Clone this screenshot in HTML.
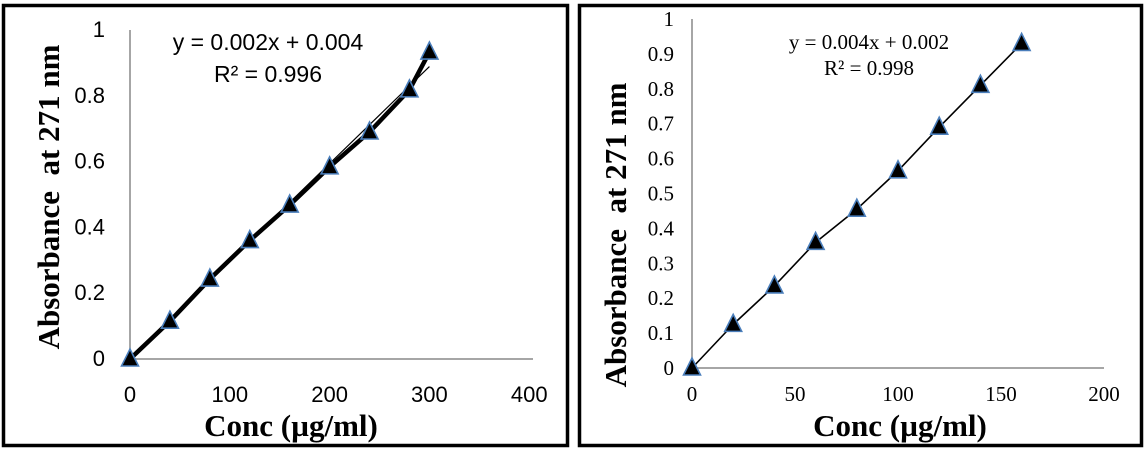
<!DOCTYPE html>
<html><head><meta charset="utf-8"><style>
html,body{margin:0;padding:0;background:#fff;}
svg{display:block;}
.pre{white-space:pre;}
</style></head><body>
<svg id="c" width="1147" height="451" xmlns="http://www.w3.org/2000/svg">
<rect x="0" y="0" width="1147" height="451" fill="#fff"/>
<rect x="3.5" y="5.5" width="564" height="440" fill="none" stroke="#000" stroke-width="3.5"/>
<rect x="579.5" y="5.5" width="562" height="440" fill="none" stroke="#000" stroke-width="3.5"/>
<g id="g1"></g>
<g id="g2"></g>
</svg>
<script>
const leftX = [0,40,80,120,160,200,240,280,300];
const leftY = [0,0.115,0.243,0.36,0.468,0.584,0.69,0.818,0.933];
const leftXTicks = [0,100,200,300,400];
const leftYTicks = [0,0.2,0.4,0.6,0.8,1];
const leftSlope = 0.00295, leftIntercept = 0.004;
const rightX = [0,20,40,60,80,100,120,140,160];
const rightY = [0,0.125,0.235,0.36,0.455,0.565,0.69,0.81,0.93];
const rightXTicks = [0,50,100,150,200];
const rightYTicks = [0,0.1,0.2,0.3,0.4,0.5,0.6,0.7,0.8,0.9,1];
const NS='http://www.w3.org/2000/svg';
function mk(p,t,a,txt){const e=document.createElementNS(NS,t);for(const k in a)e.setAttribute(k,a[k]);if(txt!==undefined)e.textContent=txt;p.appendChild(e);return e;}
function tri(g,cx,cy){
 const e=mk(g,'polygon',{points:`${cx},${cy-10} ${cx-8.5},${cy+7} ${cx+8.5},${cy+7}`,fill:'#000',stroke:'#4a7ebb','stroke-width':1.6});
 
 
}
function chart(g,o){
 const sx=v=>o.x0+(v-o.xmin)/(o.xmax-o.xmin)*(o.x1-o.x0);
 const sy=v=>o.y0-(v-o.ymin)/(o.ymax-o.ymin)*(o.y0-o.y1);
 let e=mk(g,'line',{x1:o.x0,y1:o.y0,x2:o.x0,y2:o.y1,stroke:'#888','stroke-width':1.5});
 
 e=mk(g,'line',{x1:o.x0,y1:o.y0,x2:o.x1,y2:o.y0,stroke:'#888','stroke-width':1.5});
 
 o.yt.forEach(v=>{const t=mk(g,'text',{x:o.x0-o.ylOff,y:sy(v)+7,'text-anchor':'end','font-family':o.tf,'font-size':o.ts,fill:'#000'},String(v));
  });
 o.xt.forEach(v=>{const t=mk(g,'text',{x:sx(v),y:o.xlY,'text-anchor':'middle','font-family':o.tf,'font-size':o.ts,fill:'#000'},String(v));
  });
 if(o.trend){const xa=o.xs[0],xb=o.xs[o.xs.length-1];
  e=mk(g,'line',{x1:sx(xa),y1:sy(o.trend[1]+o.trend[0]*xa),x2:sx(xb),y2:sy(o.trend[1]+o.trend[0]*xb),stroke:'#000','stroke-width':1.2});
  }
 e=mk(g,'polyline',{points:o.xs.map((x,i)=>sx(x)+','+sy(o.ys[i])).join(' '),fill:'none',stroke:'#000','stroke-width':o.lw,'stroke-linejoin':'round'});
 
 o.xs.forEach((x,i)=>tri(g,sx(x),sy(o.ys[i])));
 let t=mk(g,'text',{x:o.eqX,y:o.eqY,'text-anchor':'middle','font-family':o.tf,'font-size':o.es,fill:'#000'},o.eq);
 
 t=mk(g,'text',{x:o.eqX,y:o.r2Y,'text-anchor':'middle','font-family':o.tf,'font-size':o.es,fill:'#000'},o.r2);
 
 t=mk(g,'text',{x:o.xtX,y:o.xtY,'text-anchor':'middle','font-family':'Liberation Serif, serif','font-weight':'bold','font-size':31,fill:'#000'},'Conc (µg/ml)');
 
 t=mk(g,'text',{x:0,y:0,transform:`translate(${o.ytX},${o.ytY}) rotate(-90)`,'text-anchor':'middle','font-family':'Liberation Serif, serif','font-weight':'bold','font-size':31,fill:'#000',class:'pre'},'Absorbance  at 271 nm');
 
}
chart(document.getElementById('g1'),{x0:130,x1:533,xmin:0,xmax:400*533/528,y0:359,y1:30,ymin:0,ymax:1,
 xs:leftX,ys:leftY,xt:leftXTicks,yt:leftYTicks,tf:'Liberation Sans, sans-serif',ts:22,ylOff:25,xlY:402,lw:4.5,
 trend:[leftSlope,leftIntercept],eq:'y = 0.002x + 0.004',r2:'R² = 0.996',eqX:268,eqY:50,r2Y:82,es:23,
 xtX:291,xtY:436,ytX:59,ytY:197});
chart(document.getElementById('g2'),{x0:692,x1:1104,xmin:0,xmax:200,y0:368,y1:19,ymin:0,ymax:1,
 xs:rightX,ys:rightY,xt:rightXTicks,yt:rightYTicks,tf:'Liberation Serif, serif',ts:21,ylOff:18,xlY:401,lw:1.6,
 trend:null,eq:'y = 0.004x + 0.002',r2:'R² = 0.998',eqX:869,eqY:49,r2Y:75,es:21,
 xtX:900,xtY:436,ytX:626,ytY:235});
</script>
</body></html>
